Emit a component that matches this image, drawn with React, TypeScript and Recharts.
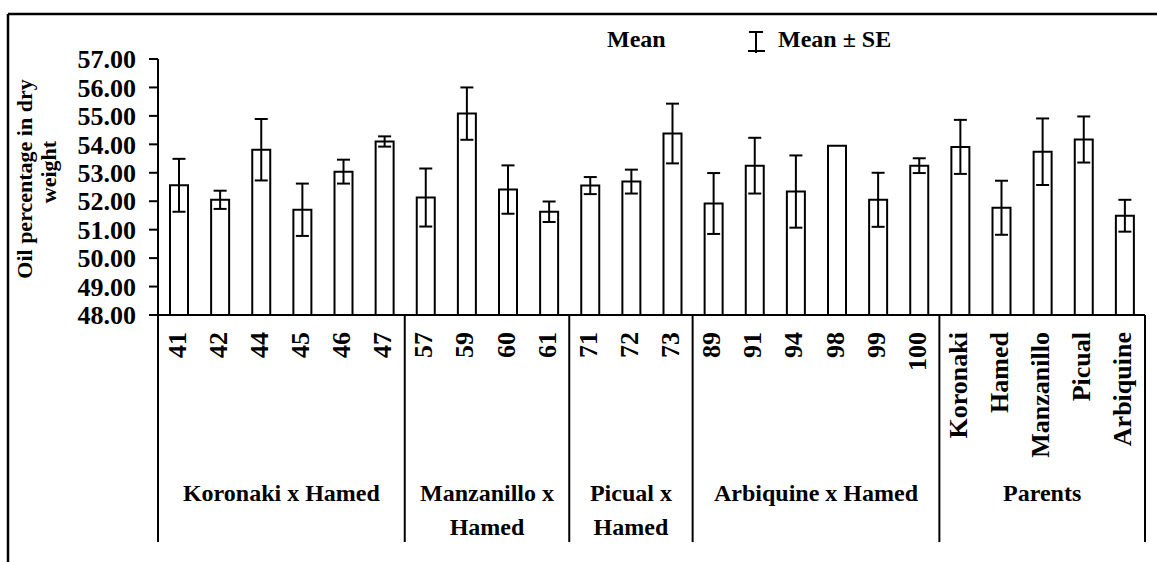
import React from 'react';
import { BarChart, Bar, XAxis, YAxis, ErrorBar } from 'recharts';

// Genotypes (hybrids grouped by cross, then the parents)
const genotypes = [
  '41', '42', '44', '45', '46', '47',
  '57', '59', '60', '61',
  '71', '72', '73',
  '89', '91', '94', '98', '99', '100',
  'Koronaki', 'Hamed', 'Manzanillo', 'Picual', 'Arbiquine',
];

// Oil percentage in dry weight: mean and standard error
const meanOil = [
  52.56, 52.05, 53.81, 51.7, 53.04, 54.1,
  52.13, 55.08, 52.41, 51.63,
  52.55, 52.69, 54.38,
  51.92, 53.25, 52.34, 53.95, 52.05, 53.25,
  53.91, 51.77, 53.74, 54.17, 51.49,
];
const seOil = [
  0.93, 0.32, 1.08, 0.92, 0.42, 0.18,
  1.02, 0.92, 0.85, 0.36,
  0.3, 0.42, 1.05,
  1.07, 0.98, 1.27, 0, 0.95, 0.26,
  0.95, 0.95, 1.17, 0.81, 0.56,
];

const groupLabels = [
  ['Koronaki x Hamed'],
  ['Manzanillo x', 'Hamed'],
  ['Picual x', 'Hamed'],
  ['Arbiquine x Hamed'],
  ['Parents'],
];
const groupSizes = [6, 4, 3, 6, 5];

const yTicks = [48, 49, 50, 51, 52, 53, 54, 55, 56, 57];

const data = genotypes.map((name, i) => ({ name, mean: meanOil[i], se: seOil[i] }));

const W = 1157;
const H = 562;
const MARGIN = { top: 59, right: 12, bottom: 17, left: 58 };
const Y_AXIS_W = 100;
const X_AXIS_H = 230;
const FONT = '"Liberation Serif", "Times New Roman", Times, serif';
const band = (W - MARGIN.left - MARGIN.right - Y_AXIS_W) / genotypes.length;

// index of the first genotype in each group
const groupStart: number[] = [];
groupSizes.reduce((acc, n) => {
  groupStart.push(acc);
  return acc + n;
}, 0);

function CategoryTick(props: any) {
  const { x, y, payload, index } = props;
  const gi = groupStart.indexOf(index);
  const left = x - band / 2;
  return (
    <g>
      <text
        transform={`translate(${x + 7},${y + 17}) rotate(-90)`}
        textAnchor="end"
        fontSize={26}
        fontWeight={700}
        fontFamily={FONT}
        fill="#000"
      >
        {payload.value}
      </text>
      {gi >= 0 && (
        <line x1={left} y1={y} x2={left} y2={y + 227} stroke="#000" strokeWidth={2} />
      )}
      {gi >= 0 &&
        groupLabels[gi].map((ln, k) => (
          <text
            key={k}
            x={left + (groupSizes[gi] * band) / 2}
            y={y + 186 + k * 34}
            textAnchor="middle"
            fontSize={24}
            fontWeight={700}
            fontFamily={FONT}
            fill="#000"
          >
            {ln}
          </text>
        ))}
      {index === genotypes.length - 1 && (
        <line x1={x + band / 2} y1={y} x2={x + band / 2} y2={y + 227} stroke="#000" strokeWidth={2} />
      )}
    </g>
  );
}

export default function App() {
  return (
    <div style={{ position: 'absolute', left: 0, top: 0, width: W, height: H, background: '#fff' }}>
      <BarChart width={W} height={H} data={data} margin={MARGIN} barCategoryGap={0}>
        <XAxis
          dataKey="name"
          interval={0}
          height={X_AXIS_H}
          tickLine={false}
          tickSize={0}
          tickMargin={0}
          axisLine={{ stroke: '#000', strokeWidth: 2 }}
          tick={(p: any) => <CategoryTick {...p} />}
        />
        <YAxis
          width={Y_AXIS_W}
          domain={[48, 57]}
          ticks={yTicks}
          interval={0}
          tickFormatter={(v: number) => v.toFixed(2)}
          tickSize={9}
          tickMargin={13}
          axisLine={{ stroke: '#000', strokeWidth: 2 }}
          tickLine={{ stroke: '#000', strokeWidth: 2 }}
          tick={{ fontSize: 26, fontWeight: 700, fontFamily: FONT, fill: '#000' }}
        />
        <Bar dataKey="mean" barSize={18} fill="#fff" stroke="#000" strokeWidth={2} isAnimationActive={false}>
          <ErrorBar dataKey="se" width={6.5} stroke="#000" strokeWidth={2} isAnimationActive={false} />
        </Bar>
      </BarChart>
      <svg
        width={W}
        height={H}
        style={{ position: 'absolute', left: 0, top: 0, pointerEvents: 'none' }}
      >
        {/* frame */}
        <line x1={8} y1={14} x2={W} y2={14} stroke="#000" strokeWidth={2.5} />
        <line x1={8} y1={14} x2={8} y2={H} stroke="#000" strokeWidth={2.5} />
        {/* axis title */}
        <g fontFamily={FONT} fontWeight={700} fontSize={22} fill="#000" textAnchor="middle">
          <text transform="translate(32,179) rotate(-90)">Oil percentage in dry</text>
          <text transform="translate(56,172) rotate(-90)">weight</text>
        </g>
        {/* legend */}
        <g fontFamily={FONT} fontWeight={700} fontSize={24} fill="#000">
          <text x={607} y={47}>Mean</text>
          <line x1={749} y1={32} x2={763} y2={32} stroke="#000" strokeWidth={2} />
          <line x1={756} y1={32} x2={756} y2={53} stroke="#000" strokeWidth={2} />
          <line x1={748} y1={51} x2={765} y2={51} stroke="#000" strokeWidth={2} />
          <text x={778} y={47}>Mean ± SE</text>
        </g>
      </svg>
    </div>
  );
}
